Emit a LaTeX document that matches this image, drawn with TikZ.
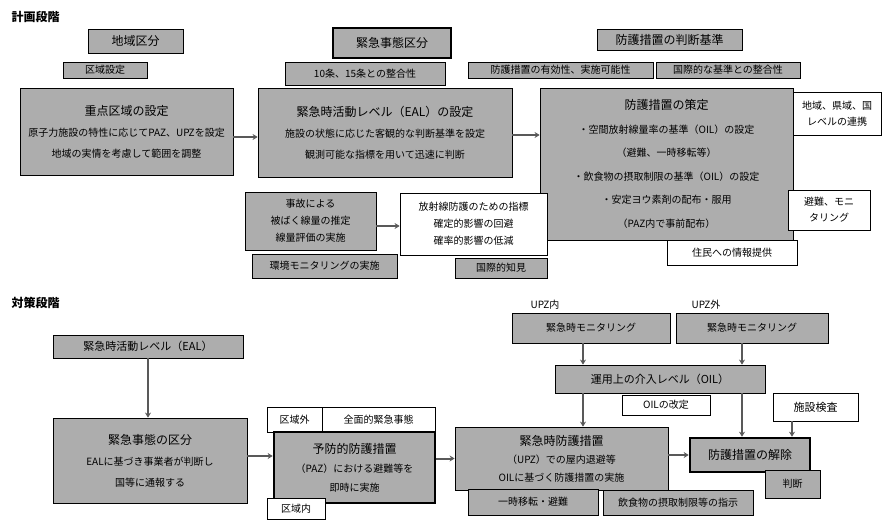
\documentclass[tikz,border=0pt]{standalone}
\usepackage{fontspec}
\setmainfont{Noto Sans CJK JP}
\usetikzlibrary{arrows.meta}
\begin{document}
\begin{tikzpicture}[x=1pt,y=-1pt,
  base/.style={draw=black, line width=0.8pt, align=center, inner sep=1pt, font=\fontsize{10}{12}\selectfont},
  shaded/.style={base, fill=black!32},
  plain/.style={base, fill=white},
  thick/.style={base, fill=black!32, line width=2.6pt},
  big/.style={font=\fontsize{10}{21}\selectfont},
  arr/.style={draw=black!65, line width=2pt, -{Stealth[length=5pt,width=6pt]}},
  ttl/.style={font=\fontsize{12}{14}\selectfont\bfseries, anchor=west}]
\useasboundingbox (0,0) rectangle (882,519);
\fill[white] (0,0) rectangle (882,519);

% ---------- planning stage ----------
\node[ttl] (t1) at (8,17) {計画段階};
\node[shaded, minimum width=95pt, minimum height=24pt, font=\fontsize{12}{14}\selectfont] (tA) at (135.5,41) {地域区分};
\node[shaded, minimum width=84pt, minimum height=16pt] (tB) at (105,70) {区域設定};
\node[shaded, big, minimum width=213pt, minimum height=87pt] (b1) at (126.5,131.5)
  {{\fontsize{12}{14}\selectfont 重点区域の設定}\\原子力施設の特性に応じてPAZ、UPZを設定\\地域の実情を考慮して範囲を調整};

\node[thick, minimum width=118pt, minimum height=30pt, font=\fontsize{12}{14}\selectfont] (tC) at (392,43) {緊急事態区分};
\node[shaded, minimum width=160pt, minimum height=23pt] (tD) at (365,73.5) {10条、15条との整合性};
\node[shaded, big, minimum width=254pt, minimum height=89pt] (b2) at (385,132.5)
  {{\fontsize{12}{14}\selectfont 緊急時活動レベル（EAL）の設定}\\施設の状態に応じた客観的な判断基準を設定\\観測可能な指標を用いて迅速に判断};

\node[shaded, minimum width=145pt, minimum height=21pt, font=\fontsize{12}{14}\selectfont] (tE) at (669.5,39.5) {防護措置の判断基準};
\node[shaded, minimum width=185pt, minimum height=16pt] (tF) at (560.5,70) {防護措置の有効性、実施可能性};
\node[shaded, minimum width=144pt, minimum height=16pt] (tG) at (728,70) {国際的な基準との整合性};
\node[shaded, minimum width=253pt, minimum height=152pt, font=\fontsize{10}{23.5}\selectfont] (b3) at (666.5,164)
  {{\fontsize{12}{14}\selectfont 防護措置の策定}\\・空間放射線量率の基準（OIL）の設定\\（避難、一時移転等）\\・飲食物の摂取制限の基準（OIL）の設定\\・安定ヨウ素剤の配布・服用\\（PAZ内で事前配布）};
\node[plain, minimum width=88pt, minimum height=43pt, font=\fontsize{10}{16}\selectfont] (n1) at (837,113.5) {地域、県域、国\\レベルの連携};
\node[plain, minimum width=82pt, minimum height=40pt, font=\fontsize{10}{16}\selectfont] (n2) at (829,210) {避難、モニ\\タリング};
\node[plain, minimum width=130pt, minimum height=25pt] (info) at (732,252.5) {住民への情報提供};

\node[shaded, minimum width=131pt, minimum height=58pt, font=\fontsize{10}{17}\selectfont] (sm) at (310.5,221) {事故による\\被ばく線量の推定\\線量評価の実施};
\node[shaded, minimum width=145pt, minimum height=24pt] (smB) at (324.5,266) {環境モニタリングの実施};
\node[plain, minimum width=147pt, minimum height=62pt, font=\fontsize{10}{17}\selectfont] (wh) at (473.5,224) {放射線防護のための指標\\確定的影響の回避\\確率的影響の低減};
\node[shaded, minimum width=92pt, minimum height=20pt] (whB) at (501,268) {国際的知見};

\draw[arr] (b1.east |- 0,137) -- (b2.west |- 0,137);
\draw[arr] (b2.east |- 0,135) -- (b3.west |- 0,135);
\draw[arr] (sm.east |- 0,226) -- (wh.west |- 0,226);

% ---------- response stage ----------
\node[ttl] (t2) at (8,303) {対策段階};
\node[shaded, minimum width=190pt, minimum height=23pt, font=\fontsize{11}{13}\selectfont] (eal) at (148,346.5) {緊急時活動レベル（EAL）};
\node[shaded, big, minimum width=194pt, minimum height=85pt] (c1) at (150,460.5)
  {{\fontsize{12}{14}\selectfont 緊急事態の区分}\\EALに基づき事業者が判断し\\国等に通報する};
\node[plain, minimum width=55pt, minimum height=25pt] (lo) at (294.5,419.5) {区域外};
\node[plain, minimum width=113pt, minimum height=25pt] (la) at (378.5,419.5) {全面的緊急事態};
\node[thick, minimum width=161pt, minimum height=71pt, font=\fontsize{10}{19}\selectfont] (c2) at (354.5,467.5)
  {{\fontsize{12}{14}\selectfont 予防的防護措置}\\（PAZ）における避難等を\\即時に実施};
\node[plain, minimum width=58pt, minimum height=21pt] (li) at (296,509) {区域内};

\node[shaded, minimum width=213pt, minimum height=63pt, font=\fontsize{10}{18}\selectfont] (c3) at (561.5,458.5)
  {{\fontsize{12}{14}\selectfont 緊急時防護措置}\\（UPZ）での屋内退避等\\OILに基づく防護措置の実施};
\node[shaded, minimum width=130pt, minimum height=26pt] (c3a) at (533,502) {一時移転・避難};
\node[shaded, minimum width=150pt, minimum height=25pt] (c3b) at (678,502.5) {飲食物の摂取制限等の指示};

\node[thick, minimum width=120pt, minimum height=34pt, font=\fontsize{12}{14}\selectfont] (c4) at (750,455) {防護措置の解除};
\node[shaded, minimum width=55pt, minimum height=28pt] (c4b) at (792.5,484) {判断};
\node[plain, minimum width=85pt, minimum height=28pt, font=\fontsize{11}{13}\selectfont] (insp) at (815.5,407) {施設検査};

\node[font=\fontsize{10}{12}\selectfont] (u1) at (545,305) {UPZ内};
\node[font=\fontsize{10}{12}\selectfont] (u2) at (706,305) {UPZ外};
\node[shaded, minimum width=158pt, minimum height=30pt] (m1) at (591,328) {緊急時モニタリング};
\node[shaded, minimum width=152pt, minimum height=30pt] (m2) at (752,328) {緊急時モニタリング};
\node[shaded, minimum width=210pt, minimum height=28pt, font=\fontsize{11}{13}\selectfont] (oil) at (660,379) {運用上の介入レベル（OIL）};
\node[plain, minimum width=88pt, minimum height=20pt] (oilB) at (666,405) {OILの改定};

\draw[arr] (eal.south) -- (eal.south |- c1.north);
\draw[arr] (c1.east |- 0,456) -- (c2.west |- 0,456);
\draw[arr] (c2.east |- c3.west) -- (c3.west);
\draw[arr] (c3.east |- c4.west) -- (c4.west);
\draw[arr] ([xshift=-8pt]m1.south) -- ([xshift=-8pt]m1.south |- oil.north);
\draw[arr] ([xshift=-10pt]m2.south) -- ([xshift=-10pt]m2.south |- oil.north);
\draw[arr] ([xshift=-77pt]oil.south) -- ([xshift=-77pt]oil.south |- c3.north);
\draw[arr] ([xshift=82pt]oil.south) -- ([xshift=82pt]oil.south |- c4.north);
\draw[arr] ([xshift=-23.5pt]insp.south) -- ([xshift=-23.5pt]insp.south |- c4.north);
\end{tikzpicture}
\end{document}
